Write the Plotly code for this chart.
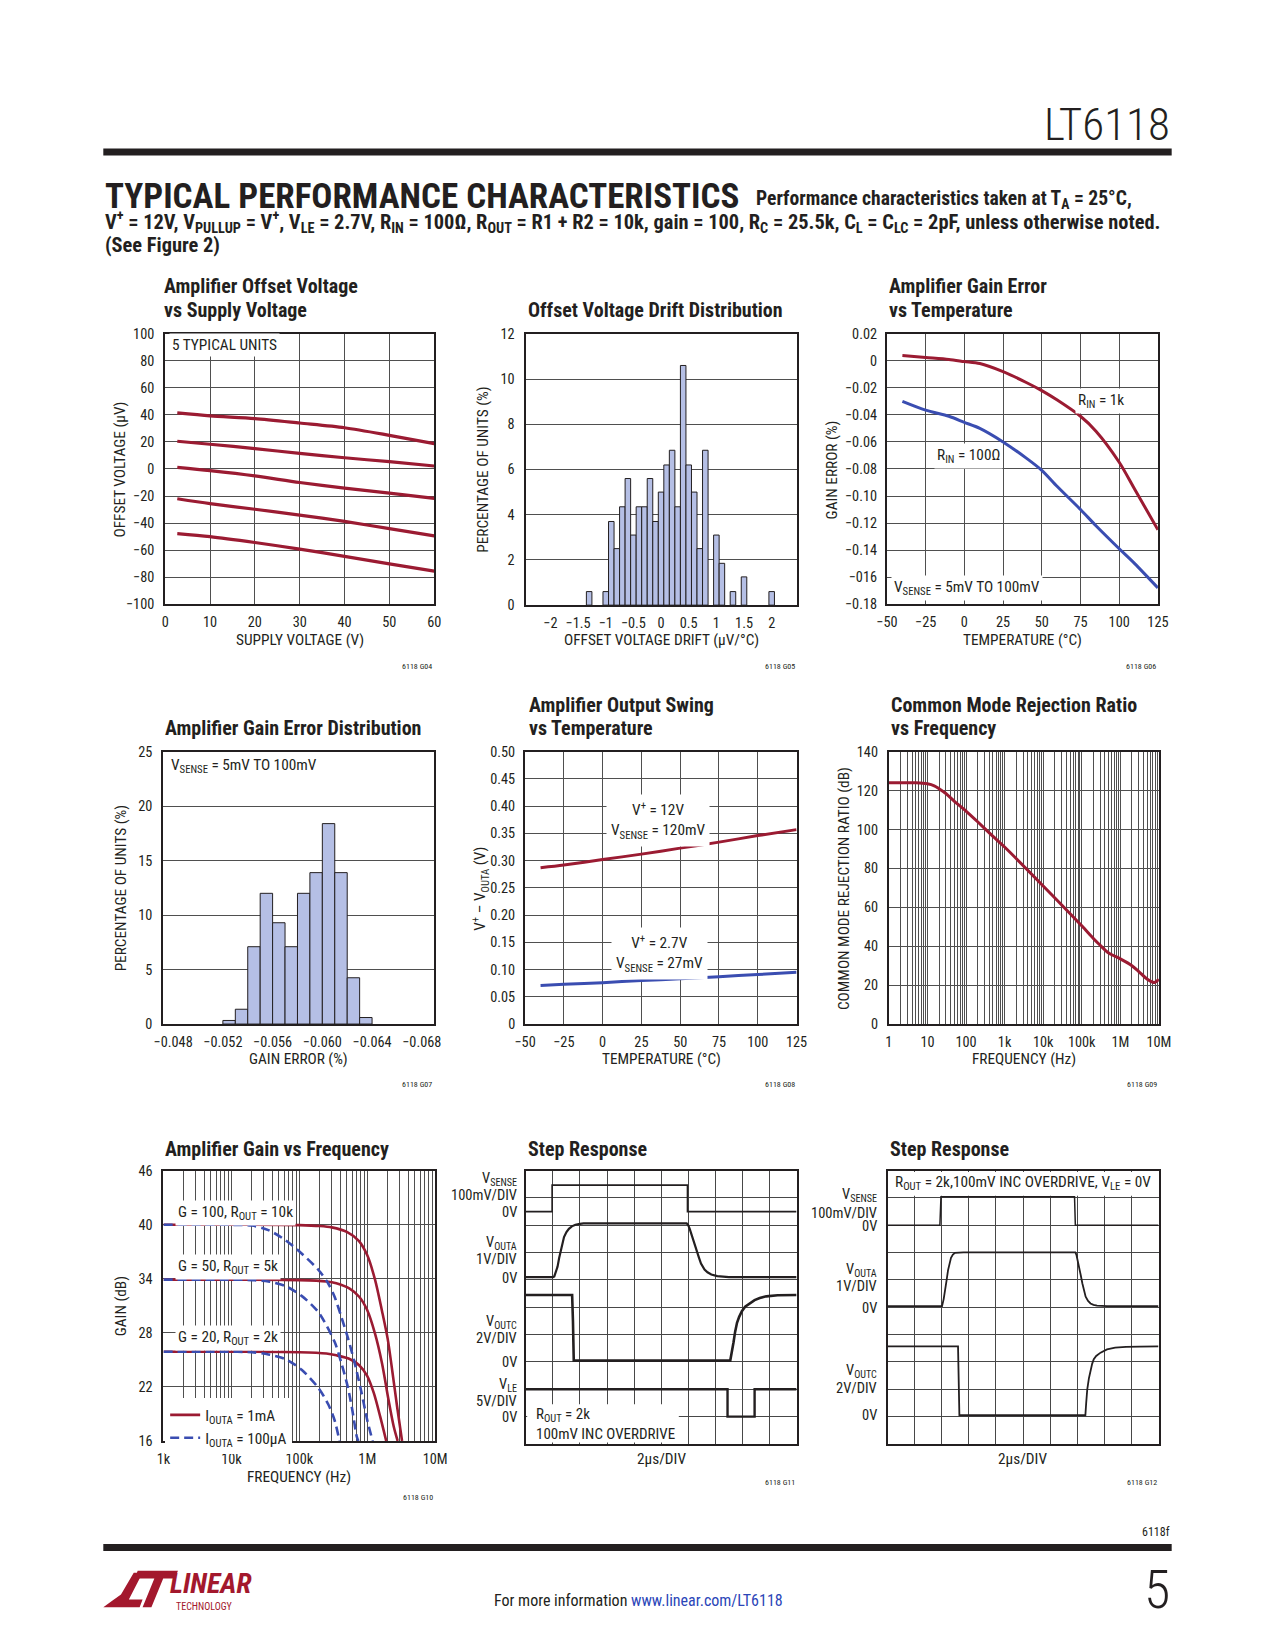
import plotly.graph_objects as go

W, H = 1275, 1650
FONT = "Roboto Condensed, DejaVu Sans Condensed, Liberation Sans Narrow, Liberation Sans, sans-serif"
TXT = "#231f20"
RED = "#9b1b32"
BLUE = "#3a4db1"
GRID = "#4f4f4f"
SGRID = "#474747"
BARC = "#b5bfe5"

def fx(x):
    return x / W

def fy(y):
    return 1 - y / H

# ------------------------------------------------------------------ data
# G04 offset voltage vs supply voltage (5 units)
SUPPLY_V = [2.7, 10, 20, 30, 40, 50, 60]
OFFSET_U1 = [41.5, 39.3, 37.3, 34.0, 30.5, 24.9, 18.8]
OFFSET_U2 = [20.5, 18.3, 15.1, 11.5, 8.3, 5.4, 2.2]
OFFSET_U3 = [1.2, -1.2, -5.1, -10.0, -14.1, -17.8, -21.7]
OFFSET_U4 = [-22.0, -25.6, -29.8, -34.1, -38.8, -44.1, -49.5]
OFFSET_U5 = [-47.8, -50.0, -54.4, -59.3, -64.6, -70.2, -75.6]

# G05 offset voltage drift distribution
DRIFT_BIN = [-1.3, -1.0, -0.9, -0.8, -0.7, -0.6, -0.5, -0.4, -0.3, -0.2, -0.1, 0.0,
             0.1, 0.2, 0.3, 0.4, 0.5, 0.6, 0.7, 0.8, 1.0, 1.1, 1.3, 1.5, 2.0]
DRIFT_PCT = [0.6, 0.6, 3.7, 2.5, 4.35, 5.6, 3.1, 4.35, 4.35, 5.6, 3.7, 5.0,
             6.2, 6.85, 4.35, 10.6, 6.2, 5.0, 2.5, 6.85, 3.1, 1.85, 0.6, 1.25, 0.6]
DRIFT_TICKS = [-2, -1.5, -1, -0.5, 0, 0.5, 1, 1.5, 2]

# G06 gain error vs temperature
TEMP_GE = [-40, -25, -10, 0, 10, 25, 40, 50, 60, 75, 85, 100, 110, 125]
GE_RIN_1K = [0.004, 0.0025, 0.001, -0.0005, -0.002, -0.008, -0.016, -0.022, -0.029,
             -0.041, -0.052, -0.075, -0.095, -0.125]
GE_RIN_100 = [-0.030, -0.0365, -0.041, -0.0455, -0.050, -0.060, -0.072, -0.081, -0.093,
              -0.110, -0.122, -0.139, -0.150, -0.168]
GE_YTICKS = [0.02, 0, -0.02, -0.04, -0.06, -0.08, -0.10, -0.12, -0.14, -0.16, -0.18]
GE_YTEXT = ["0.02", "0", "\u22120.02", "\u22120.04", "\u22120.06", "\u22120.08", "\u22120.10",
            "\u22120.12", "\u22120.14", "\u2212016", "\u22120.18"]

# G07 gain error distribution
GAINERR_BIN = [-0.0525, -0.0535, -0.0545, -0.0555, -0.0565, -0.0575, -0.0585,
               -0.0595, -0.0605, -0.0615, -0.0625, -0.0635]
GAINERR_PCT = [0.33, 1.36, 7.1, 12.0, 9.3, 7.1, 12.0, 13.9, 18.4, 13.9, 4.25, 0.6]
GAINERR_TICKS = [-0.048, -0.052, -0.056, -0.060, -0.064, -0.068]
GAINERR_TEXT = ["\u22120.048", "\u22120.052", "\u22120.056", "\u22120.060", "\u22120.064", "\u22120.068"]

# G08 output swing vs temperature
TEMP_SW = [-40, -25, 0, 25, 50, 75, 100, 125]
SWING_12V = [0.287, 0.292, 0.302, 0.312, 0.323, 0.334, 0.346, 0.357]
SWING_2V7 = [0.071, 0.073, 0.076, 0.080, 0.083, 0.087, 0.091, 0.095]
SWING_YTICKS = [0, 0.05, 0.10, 0.15, 0.20, 0.25, 0.30, 0.35, 0.40, 0.45, 0.50]
SWING_YTEXT = ["0", "0.05", "0.10", "0.15", "0.20", "0.25", "0.30", "0.35", "0.40", "0.45", "0.50"]

# G09 CMRR vs frequency
CMRR_F = [1, 5, 10, 15, 20, 30, 50, 100, 200, 500, 1e3, 1e4, 1e5, 2e5, 3e5, 5e5,
          1e6, 2e6, 3e6, 5e6, 7e6, 8e6, 1e7]
CMRR_DB = [124, 124, 123.5, 122.5, 121, 118.5, 114.5, 109.5, 104, 96.5, 91, 71, 50.5,
           44, 40.5, 36.5, 33.5, 30, 27, 23, 21.5, 21.5, 23]
CMRR_TICKS = [1, 10, 100, 1e3, 1e4, 1e5, 1e6, 1e7]
CMRR_TEXT = ["1", "10", "100", "1k", "10k", "100k", "1M", "10M"]

# G10 amplifier gain vs frequency
G100_1MA_F = [1e3, 1e4, 1e5, 2e5, 3e5, 5e5, 7.5e5, 1e6, 1.3e6, 1.65e6, 2e6, 2.35e6, 2.75e6, 3.25e6]
G100_1MA_DB = [40, 40, 39.95, 39.85, 39.7, 39.2, 38.2, 36.6, 33.9, 30.4, 27.3, 23.6, 19.8, 16]
G50_1MA_F = [1e3, 1e5, 2.5e5, 3.5e5, 5.5e5, 7.6e5, 1e6, 1.3e6, 1.65e6, 2.05e6, 2.45e6, 2.8e6]
G50_1MA_DB = [33.9, 33.85, 33.7, 33.5, 32.9, 32.0, 30.5, 27.9, 24.6, 20.6, 17.6, 16]
G20_1MA_F = [1e3, 1e5, 2.5e5, 3.5e5, 5.5e5, 7.6e5, 1e6, 1.25e6, 1.55e6, 1.9e6]
G20_1MA_DB = [25.9, 25.85, 25.7, 25.5, 25.1, 24.4, 23.2, 21.3, 18.7, 16]
G100_100U_F = [1e3, 1e4, 2e4, 3.5e4, 6.2e4, 1.08e5, 1.9e5, 2.65e5, 3.3e5, 4.1e5, 5.2e5, 6.45e5, 8.1e5, 1e6, 1.2e6]
G100_100U_DB = [40, 39.98, 39.9, 39.4, 38.3, 36.8, 35.0, 33.5, 32.0, 29.9, 27.4, 24.8, 21.6, 18.3, 16]
G50_100U_F = [1e3, 1e4, 2e4, 3.5e4, 6.2e4, 1.08e5, 1.9e5, 3.3e5, 4.1e5, 5.2e5, 6e5, 7e5, 7.4e5]
G50_100U_DB = [33.9, 33.9, 33.85, 33.7, 33.2, 32.1, 30.3, 27.0, 24.8, 21.9, 19.5, 16.5, 16]
G20_100U_F = [1e3, 1e4, 2e4, 3.5e4, 6.2e4, 1.08e5, 1.9e5, 2.65e5, 3.3e5, 3.9e5]
G20_100U_DB = [25.9, 25.9, 25.85, 25.6, 25.1, 23.9, 21.9, 20.1, 18.3, 16]
GAIN_TICKS = [1e3, 1e4, 1e5, 1e6, 1e7]
GAIN_TEXT = ["1k", "10k", "100k", "1M", "10M"]
GAIN_YTICKS = [16, 22, 28, 34, 40, 46]

# G11 step response (divisions)
S1_VSENSE_T = [0, 0.97, 0.97, 5.97, 5.97, 10]
S1_VSENSE_V = [8.5, 8.5, 9.47, 9.47, 8.5, 8.5]
S1_VOUTA_T = [0, 1.0, 1.05, 1.1, 1.17, 1.23, 1.29, 1.35, 1.41, 1.5, 1.59, 1.7, 1.83, 2.0, 2.13,
              5.94, 6.0, 6.05, 6.1, 6.17, 6.23, 6.3, 6.4, 6.47, 6.6, 6.71, 6.85, 7.07, 7.5, 10]
S1_VOUTA_V = [6.1, 6.1, 6.13, 6.25, 6.48, 6.8, 7.08, 7.35, 7.57, 7.75, 7.87, 7.96, 8.02, 8.05, 8.07,
              8.07, 8.0, 7.88, 7.72, 7.5, 7.33, 7.05, 6.8, 6.6, 6.38, 6.28, 6.2, 6.14, 6.1, 6.1]
S1_VOUTC_T = [0, 1.71, 1.74, 1.77, 7.55, 7.6, 7.67, 7.73, 7.8, 7.88, 7.98, 8.1, 8.28, 8.45, 8.64, 8.88, 9.3, 10]
S1_VOUTC_V = [5.45, 5.45, 4.5, 3.05, 3.05, 3.3, 3.71, 4.1, 4.43, 4.65, 4.86, 5.02, 5.16, 5.26, 5.34, 5.4, 5.44, 5.45]
S1_VLE_T = [0, 7.45, 7.45, 8.45, 8.45, 10]
S1_VLE_V = [2.0, 2.0, 1.0, 1.0, 2.0, 2.0]

# G12 step response (divisions)
S2_VSENSE_T = [0, 1.93, 1.97, 6.9, 6.93, 10]
S2_VSENSE_V = [8.0, 8.0, 9.04, 9.04, 8.0, 8.0]
S2_VOUTA_T = [0, 2.01, 2.07, 2.13, 2.18, 2.23, 2.28, 2.34, 2.41, 2.49, 2.8, 6.93, 6.97, 7.02, 7.07,
              7.13, 7.19, 7.25, 7.31, 7.4, 7.49, 7.6, 7.73, 8.1, 10]
S2_VOUTA_V = [5.04, 5.04, 5.3, 5.63, 6.0, 6.35, 6.6, 6.81, 6.93, 6.99, 7.01, 7.01, 6.92, 6.72, 6.47,
              6.17, 5.87, 5.6, 5.39, 5.23, 5.14, 5.09, 5.06, 5.04, 5.04]
S2_VOUTC_T = [0, 2.6, 2.65, 7.3, 7.33, 7.37, 7.43, 7.49, 7.55, 7.61, 7.7, 7.86, 8.1, 8.4, 8.8, 9.3, 10]
S2_VOUTC_V = [3.57, 3.57, 1.05, 1.05, 1.5, 2.0, 2.4, 2.73, 2.93, 3.1, 3.22, 3.34, 3.46, 3.52, 3.55, 3.56, 3.57]

# ------------------------------------------------------------------ figure
fig = go.Figure()
layout = {}
annos = []
shapes = []

TICK = 14.3


def axes(n, x0, x1, yt, yb, xa, ya):
    base = dict(showline=True, linecolor=TXT, linewidth=2, mirror=True, zeroline=False,
                showgrid=True, gridcolor=GRID, gridwidth=1, ticks="",
                tickfont=dict(family=FONT, size=TICK, color=TXT), fixedrange=True)
    xd = dict(base, domain=[fx(x0), fx(x1)], anchor="y" + ("" if n == 1 else str(n)),
              ticklabelstandoff=4)
    xd.update(xa)
    yd = dict(base, domain=[fy(yb), fy(yt)], anchor="x" + ("" if n == 1 else str(n)),
              ticklabelstandoff=6)
    yd.update(ya)
    k = "" if n == 1 else str(n)
    layout["xaxis" + k] = xd
    layout["yaxis" + k] = yd


def ref(n):
    k = "" if n == 1 else str(n)
    return dict(xaxis="x" + k, yaxis="y" + k)


def txt(x, y, s, size=15, xa="center", ya="middle", bold=False, bg=None, align="center",
        color=TXT, angle=0, pad=1, weight=None):
    f = dict(family=FONT, size=size, color=color)
    if weight:
        f["weight"] = weight
    a = dict(x=fx(x), y=fy(y), xref="paper", yref="paper", text=("<b>%s</b>" % s) if bold else s,
             showarrow=False, xanchor=xa, yanchor=ya, align=align, textangle=angle,
             font=f, borderpad=pad)
    if bg:
        a["bgcolor"] = bg
    annos.append(a)


def line(n, x, y, color, width=3, dash="solid", shape="spline", name=None, legend=False):
    fig.add_trace(go.Scatter(x=x, y=y, mode="lines", name=name, showlegend=legend,
                             line=dict(color=color, width=width, dash=dash, shape=shape,
                                       smoothing=0.8 if shape == "spline" else None),
                             hoverinfo="skip", **ref(n)))


# --- chart 1
axes(1, 157, 431, 329, 602,
     dict(range=[0, 60], dtick=10),
     dict(range=[-100, 100], dtick=20))
for ys in [OFFSET_U1, OFFSET_U2, OFFSET_U3, OFFSET_U4, OFFSET_U5]:
    line(1, SUPPLY_V, ys, RED, 3.2)

# --- chart 2
axes(2, 524, 800, 329, 603,
     dict(range=[-2.45, 2.45], tickvals=DRIFT_TICKS, showgrid=False),
     dict(range=[0, 12], dtick=2))
fig.add_trace(go.Bar(x=DRIFT_BIN, y=DRIFT_PCT, width=0.1, marker=dict(color=BARC, line=dict(color=TXT, width=1)),
                     showlegend=False, hoverinfo="skip", **ref(2)))

# --- chart 3
axes(3, 892, 1168, 329, 602,
     dict(range=[-50, 125], tickvals=[-50, -25, 0, 25, 50, 75, 100, 125]),
     dict(range=[-0.18, 0.02], tickvals=GE_YTICKS, ticktext=GE_YTEXT, ticklabelstandoff=5))
line(3, TEMP_GE, GE_RIN_1K, RED)
line(3, TEMP_GE, GE_RIN_100, BLUE)

# --- chart 4
axes(4, 155, 431, 751, 1026,
     dict(range=[-0.0472, -0.0690], tickvals=GAINERR_TICKS, ticktext=GAINERR_TEXT, showgrid=False),
     dict(range=[0, 25], dtick=5))
fig.add_trace(go.Bar(x=GAINERR_BIN, y=GAINERR_PCT, width=0.001, marker=dict(color=BARC, line=dict(color=TXT, width=1)),
                     showlegend=False, hoverinfo="skip", **ref(4)))

# --- chart 5
axes(5, 523.5, 800, 751, 1026,
     dict(range=[-50, 125], tickvals=[-50, -25, 0, 25, 50, 75, 100, 125]),
     dict(range=[0, 0.5], tickvals=SWING_YTICKS, ticktext=SWING_YTEXT, ticklabelstandoff=5))
line(5, TEMP_SW, SWING_12V, RED)
line(5, TEMP_SW, SWING_2V7, BLUE)

# --- chart 6
minor_c = [m * 10 ** d for d in range(0, 7) for m in range(2, 10)]
axes(6, 894, 1169, 751, 1026,
     dict(type="log", range=[0, 7], tickvals=CMRR_TICKS, ticktext=CMRR_TEXT,
          minor=dict(tickmode="array", tickvals=minor_c, showgrid=True, gridcolor=GRID, gridwidth=1, ticks="")),
     dict(range=[0, 140], dtick=20))
line(6, CMRR_F, CMRR_DB, RED)

# --- chart 7
minor_g = [m * 10 ** d for d in range(3, 7) for m in range(2, 10)]
axes(7, 155.3, 432, 1174, 1447,
     dict(type="log", range=[3, 7], tickvals=GAIN_TICKS, ticktext=GAIN_TEXT,
          minor=dict(tickmode="array", tickvals=minor_g, showgrid=True, gridcolor=GRID, gridwidth=1, ticks="")),
     dict(range=[16, 46], tickvals=GAIN_YTICKS))
line(7, G100_1MA_F, G100_1MA_DB, RED, 2.6, name="I<sub>OUTA</sub> = 1mA", legend=True)
line(7, G50_1MA_F, G50_1MA_DB, RED, 2.6)
line(7, G20_1MA_F, G20_1MA_DB, RED, 2.6)
line(7, G100_100U_F, G100_100U_DB, BLUE, 2.6, dash="9px,5px", name="I<sub>OUTA</sub> = 100\u03bcA", legend=True)
line(7, G50_100U_F, G50_100U_DB, BLUE, 2.6, dash="9px,5px")
line(7, G20_100U_F, G20_100U_DB, BLUE, 2.6, dash="9px,5px")

# --- chart 8 / 9 (scope screens)
scope_ax = dict(range=[0, 10], dtick=1, showticklabels=False, gridcolor=SGRID)
axes(8, 524.3, 800, 1174, 1450, dict(scope_ax), dict(scope_ax))
axes(9, 892.7, 1168.6, 1174, 1450, dict(scope_ax), dict(scope_ax))
shapes.append(dict(type="rect", xref="x8", yref="y8", x0=0.05, x1=5.65, y0=0.05, y1=1.45,
                   fillcolor="white", line=dict(width=0), layer="between"))
shapes.append(dict(type="rect", xref="x9", yref="y9", x0=0.05, x1=9.95, y0=9.08, y1=9.95,
                   fillcolor="white", line=dict(width=0), layer="between"))
line(8, S1_VSENSE_T, S1_VSENSE_V, TXT, 1.6, shape="linear")
line(8, S1_VOUTA_T, S1_VOUTA_V, TXT, 2.2, shape="linear")
line(8, S1_VOUTC_T, S1_VOUTC_V, TXT, 2.6, shape="linear")
line(8, S1_VLE_T, S1_VLE_V, TXT, 2.4, shape="linear")
line(9, S2_VSENSE_T, S2_VSENSE_V, TXT, 1.5, shape="linear")
line(9, S2_VOUTA_T, S2_VOUTA_V, TXT, 1.8, shape="linear")
line(9, S2_VOUTC_T, S2_VOUTC_V, TXT, 1.8, shape="linear")

# ------------------------------------------------------------------ page text
txt(1182, 118, "LT6118", size=45, xa="right", weight=300)
shapes.append(dict(type="rect", xref="paper", yref="paper", x0=fx(94), x1=fx(1182), y0=fy(149), y1=fy(142),
                   fillcolor=TXT, line=dict(width=0)))
txt(94, 190, "TYPICAL PERFORMANCE CHARACTERISTICS", size=35, xa="left", bold=True)
txt(757, 193, "Performance characteristics taken at T<sub>A</sub> = 25\u00b0C,", size=19.6, xa="left", bold=True)
txt(94, 216, "V<sup>+</sup> = 12V, V<sub>PULLUP</sub> = V<sup>+</sup>, V<sub>LE</sub> = 2.7V, R<sub>IN</sub> = 100\u03a9, "
             "R<sub>OUT</sub> = R1 + R2 = 10k, gain = 100, R<sub>C</sub> = 25.5k, C<sub>L</sub> = C<sub>LC</sub> = 2pF, "
             "unless otherwise noted.", size=20.4, xa="left", bold=True)
txt(94, 239, "(See Figure 2)", size=20.4, xa="left", bold=True)

# chart titles
TB = 20
txt(154, 281, "Amplifier Offset Voltage", TB, xa="left", bold=True)
txt(154, 305, "vs Supply Voltage", TB, xa="left", bold=True)
txt(524, 305, "Offset Voltage Drift Distribution", TB, xa="left", bold=True)
txt(892, 281, "Amplifier Gain Error", TB, xa="left", bold=True)
txt(892, 305, "vs Temperature", TB, xa="left", bold=True)
txt(155, 727, "Amplifier Gain Error Distribution", TB, xa="left", bold=True)
txt(525, 704, "Amplifier Output Swing", TB, xa="left", bold=True)
txt(525, 727, "vs Temperature", TB, xa="left", bold=True)
txt(894, 704, "Common Mode Rejection Ratio", TB, xa="left", bold=True)
txt(894, 727, "vs Frequency", TB, xa="left", bold=True)
txt(155, 1152, "Amplifier Gain vs Frequency", TB, xa="left", bold=True)
txt(524, 1152, "Step Response", TB, xa="left", bold=True)
txt(893, 1152, "Step Response", TB, xa="left", bold=True)

# axis titles
AT = 15.3
txt(294, 638.5, "SUPPLY VOLTAGE (V)", AT)
txt(662, 638.5, "OFFSET VOLTAGE DRIFT (\u03bcV/\u00b0C)", AT)
txt(1030, 638.5, "TEMPERATURE (\u00b0C)", AT)
txt(293, 1061, "GAIN ERROR (%)", AT)
txt(662, 1061, "TEMPERATURE (\u00b0C)", AT)
txt(1032, 1061, "FREQUENCY (Hz)", AT)
txt(293, 1483.6, "FREQUENCY (Hz)", AT)
txt(662, 1465, "2\u03bcs/DIV", AT)
txt(1030, 1465, "2\u03bcs/DIV", AT)
txt(112, 466, "OFFSET VOLTAGE (\u03bcV)", AT, angle=-90)
txt(481, 466, "PERCENTAGE OF UNITS (%)", AT, angle=-90)
txt(837, 466, "GAIN ERROR (%)", AT, angle=-90)
txt(112, 889, "PERCENTAGE OF UNITS (%)", AT, angle=-90)
txt(478, 889, "V<sup>+</sup> \u2013 V<sub>OUTA</sub> (V)", AT, angle=-90)
txt(849, 889, "COMMON MODE REJECTION RATIO (dB)", AT, angle=-90)
txt(112, 1311, "GAIN (dB)", AT, angle=-90)

# in-plot labels
LB = 15.3
txt(161, 340, "5 TYPICAL UNITS", LB, xa="left", bg="white", pad=2)
txt(1084, 397, "R<sub>IN</sub> = 1k", LB, xa="left", bg="white", pad=2)
txt(975, 452, "R<sub>IN</sub> = 100\u03a9", LB, bg="white", pad=2)
txt(896, 586, "V<sub>SENSE</sub> = 5mV TO 100mV", LB, xa="left", bg="white", pad=2)
txt(160, 765, "V<sub>SENSE</sub> = 5mV TO 100mV", LB, xa="left", bg="white", pad=2)
txt(659, 820, "V<sup>+</sup> = 12V<br>V<sub>SENSE</sub> = 120mV", LB, bg="white", pad=4)
txt(660, 955, "V<sup>+</sup> = 2.7V<br>V<sub>SENSE</sub> = 27mV", LB, bg="white", pad=4)
txt(167, 1217, "G = 100, R<sub>OUT</sub> = 10k", LB, xa="left", bg="white", pad=2)
txt(167, 1271, "G = 50, R<sub>OUT</sub> = 5k", LB, xa="left", bg="white", pad=2)
txt(167, 1343, "G = 20, R<sub>OUT</sub> = 2k", LB, xa="left", bg="white", pad=2)

# scope side labels
SL = 14.5
for s, y in [("V<sub>SENSE</sub>", 1182), ("100mV/DIV", 1199), ("0V", 1216.5),
             ("V<sub>OUTA</sub>", 1247), ("1V/DIV", 1264), ("0V", 1282.5),
             ("V<sub>OUTC</sub>", 1327), ("2V/DIV", 1344), ("0V", 1368),
             ("V<sub>LE</sub>", 1390), ("5V/DIV", 1407), ("0V", 1423)]:
    txt(517, y, s, SL, xa="right")
for s, y in [("V<sub>SENSE</sub>", 1199), ("100mV/DIV", 1217.5), ("0V", 1230),
             ("V<sub>OUTA</sub>", 1274), ("1V/DIV", 1291.5), ("0V", 1313),
             ("V<sub>OUTC</sub>", 1376.5), ("2V/DIV", 1394), ("0V", 1421.5)]:
    txt(884, y, s, SL, xa="right")
txt(533, 1430, "R<sub>OUT</sub> = 2k<br>100mV INC OVERDRIVE", 15, xa="left", align="left")
txt(898, 1187, "R<sub>OUT</sub> = 2k,100mV INC OVERDRIVE, V<sub>LE</sub> = 0V", 15.3, xa="left")

# chart codes
CS = 8
for s, x, y in [("6118 G04", 431, 665), ("6118 G05", 800, 665), ("6118 G06", 1168, 665),
                ("6118 G07", 431, 1087.5), ("6118 G08", 800, 1087.5), ("6118 G09", 1169, 1087.5),
                ("6118 G10", 432, 1504.5), ("6118 G11", 800, 1489), ("6118 G12", 1168.6, 1489)]:
    txt(x, y, s, CS, xa="right")

# footer
txt(1182, 1539, "6118f", 12, xa="right")
shapes.append(dict(type="rect", xref="paper", yref="paper", x0=fx(94), x1=fx(1182), y0=fy(1558), y1=fy(1551),
                   fillcolor=TXT, line=dict(width=0)))
txt(639, 1608, "For more information <span style='color:#2b46b8'>www.linear.com/LT6118</span>", 16)
txt(1182, 1597, "5", 54, xa="right", weight=300)

# logo (approximate)
def ppath(pts):
    return "M " + " L ".join("%f,%f" % (fx(a), fy(b)) for a, b in pts) + " Z"

LOGO_RED = "#a3182d"
shapes.append(dict(type="path", xref="paper", yref="paper", fillcolor=LOGO_RED, line=dict(width=0),
                   path=ppath([(94, 1615), (131, 1615), (134, 1607), (120, 1607), (134, 1580),
                               (125, 1580), (112, 1602), (102, 1609)])))
shapes.append(dict(type="path", xref="paper", yref="paper", fillcolor=LOGO_RED, line=dict(width=0),
                   path=ppath([(129, 1578), (170, 1578), (167, 1586), (155, 1586), (143, 1615),
                               (134, 1615), (146, 1586), (126, 1586)])))
txt(160, 1591, "<i>LINEAR</i>", 28, xa="left", bold=True, color=LOGO_RED)
txt(166, 1614, "TECHNOLOGY", 10, xa="left", color=LOGO_RED)

fig.update_layout(
    width=W, height=H, margin=dict(l=0, r=0, t=0, b=0, pad=0),
    paper_bgcolor="white", plot_bgcolor="white",
    font=dict(family=FONT, color=TXT),
    annotations=annos, shapes=shapes,
    legend=dict(x=fx(157), y=fy(1404), xanchor="left", yanchor="top", bgcolor="white",
                font=dict(family=FONT, size=15.3, color=TXT), itemwidth=30, borderwidth=0,
                tracegroupgap=0),
    **layout,
)

fig.write_html("out.html", config={"displayModeBar": False},
               post_script="document.body.style.margin='0';document.body.style.overflow='hidden';")
